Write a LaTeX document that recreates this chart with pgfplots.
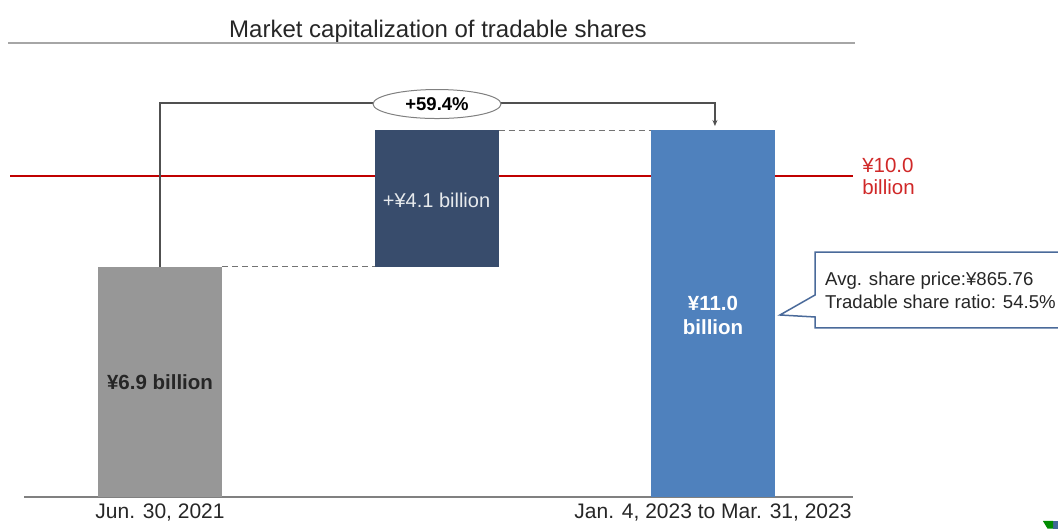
\documentclass[border=0pt]{standalone}
\usepackage{pgfplots}
\pgfplotsset{compat=1.18}
\usepackage{fontspec}
\setmainfont{Liberation Sans}
\usetikzlibrary{shapes.geometric,arrows.meta}
\definecolor{bargray}{HTML}{979797}
\definecolor{barnavy}{HTML}{384C6C}
\definecolor{barblue}{HTML}{4F81BD}
\definecolor{redline}{HTML}{C00000}
\definecolor{redtext}{HTML}{D02828}
\definecolor{conn}{HTML}{505050}
\definecolor{callout}{HTML}{4A6A9A}
\definecolor{txt}{HTML}{262626}
\begin{document}
\begin{tikzpicture}
\begin{axis}[
  name=ax,
  scale only axis, width=829pt, height=497pt,
  xmin=-0.4919, xmax=2.5063, ymin=0, ymax=14.898,
  axis x line*=bottom, axis y line=none,
  x axis line style={-, draw=black!50, line width=2pt},
  xtick={0,2}, xticklabels={{Jun. 30, 2021},{Jan. 4, 2023 to Mar. 31, 2023}},
  major tick length=0pt, ytick=\empty,
  xticklabel style={font=\fontsize{21}{24}\selectfont, text=txt, yshift=-3pt},
  ybar stacked, bar width=124pt,
  clip=false,
]
% gray base bar
\addplot[fill=bargray, draw=none] coordinates {(0,6.9) (1,0) (2,0)};
% invisible base under the increment
\addplot[fill=none, draw=none] coordinates {(0,0) (1,6.9) (2,0)};
% increment
\addplot[fill=barnavy, draw=none] coordinates {(0,0) (1,4.1) (2,0)};
% final bar
\addplot[fill=barblue, draw=none] coordinates {(0,0) (1,0) (2,11.0)};

% title rule
\draw[black!35, line width=1.5pt] (axis cs:-0.5497,13.61) -- (axis cs:2.5136,13.61);
% dashed connectors
\draw[black!55, dash pattern=on 6pt off 4pt, line width=1pt] (axis cs:0.2242,6.9) -- (axis cs:0.7758,6.9);
\draw[black!55, dash pattern=on 6pt off 4pt, line width=1pt] (axis cs:1.2242,11.0) -- (axis cs:1.7758,11.0);
% growth arrow
\draw[conn, line width=1.2pt, -{Stealth[length=6pt,width=5pt]}] (axis cs:0,6.9) -- (axis cs:0,11.81) -- (axis cs:2.007,11.81) -- (axis cs:2.007,11.12);
% red threshold line
\draw[redline, line width=2.5pt] (axis cs:-0.5425,9.62) -- (axis cs:2.5063,9.62);
% callout box
\draw[callout, line width=1.5pt, fill=white] (axis cs:2.369,7.344) -- (axis cs:3.30,7.344) -- (axis cs:3.30,5.066) -- (axis cs:2.369,5.066) -- (axis cs:2.369,5.396) -- (axis cs:2.242,5.456) -- (axis cs:2.369,6.055) -- cycle;
% corner logo fragment
\fill[green!55!black] (axis cs:3.193,-0.719) -- (axis cs:3.23,-0.719) -- (axis cs:3.23,-0.95) -- (axis cs:3.21,-0.95) -- cycle;
\fill[barblue!80!black] (axis cs:3.23,-0.719) -- (axis cs:3.26,-0.719) -- (axis cs:3.26,-0.95) -- (axis cs:3.23,-0.95) -- cycle;

% anchor points for the texts
\coordinate (ctitle) at (axis cs:1.0054,13.96);
\coordinate (cpct) at (axis cs:1.0018,11.78);
\coordinate (cred) at (axis cs:2.539,9.62);
\coordinate (cA) at (axis cs:0,3.447);
\coordinate (cB) at (axis cs:1,8.90);
\coordinate (cC) at (axis cs:2,5.456);
\coordinate (cD) at (axis cs:2.405,6.475);
\coordinate (cE) at (axis cs:2.405,5.845);
\end{axis}

\node[font=\fontsize{24}{28}\selectfont, text=txt] at (ctitle) {Market capitalization of tradable shares};
\node[ellipse, draw=black!50, line width=1pt, fill=white, minimum width=128pt, minimum height=29pt, inner sep=0pt, font=\bfseries\fontsize{18.5}{21}\selectfont, text=black] at (cpct) {+59.4\%};
\node[anchor=west, align=left, text=redtext, font=\fontsize{20.5}{22}\selectfont, inner sep=0pt] at (cred) {¥10.0\\billion};
\node[font=\bfseries\fontsize{20.5}{24}\selectfont, text=txt] at (cA) {¥6.9 billion};
\node[font=\fontsize{20}{23}\selectfont, text=white!88!barnavy] at (cB) {+¥4.1 billion};
\node[font=\bfseries\fontsize{20.5}{24}\selectfont, text=white, align=center] at (cC) {¥11.0\\billion};
\node[anchor=west, font=\fontsize{18.6}{21}\selectfont, text=txt, inner sep=0pt] at (cD) {Avg. share price:¥865.76};
\node[anchor=west, font=\fontsize{18.6}{21}\selectfont, text=txt, inner sep=0pt] at (cE) {Tradable share ratio: 54.5\%};

\pgfresetboundingbox
\path ([xshift=-24pt,yshift=-31pt]ax.south west) rectangle ([xshift=205pt]ax.north east);
\end{tikzpicture}
\end{document}
